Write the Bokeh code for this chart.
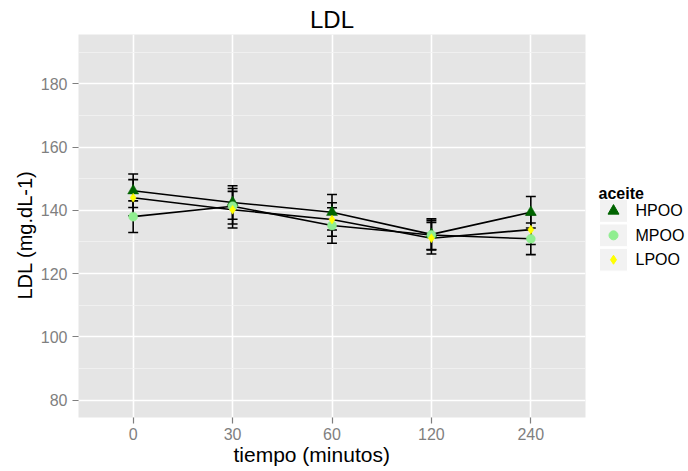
from bokeh.plotting import figure
from bokeh.layouts import row
from bokeh.models import Range1d, SingleIntervalTicker, FixedTicker, ColumnDataSource, Title
from bokeh.core.properties import value
from bokeh.embed import file_html
from bokeh.resources import INLINE

# ---- data ----
tiempo = ["0", "30", "60", "120", "240"]
series = ["HPOO", "MPOO", "LPOO"]
hpoo_mean = [146.2, 142.5, 139.4, 132.4, 139.4]
hpoo_se = [5.3, 5.3, 5.6, 4.9, 5.0]
mpoo_mean = [138.0, 141.3, 135.2, 132.2, 131.0]
mpoo_se = [5.0, 5.6, 5.6, 4.6, 5.0]
lpoo_mean = [144.0, 140.2, 137.1, 131.2, 133.9]
lpoo_se = [5.7, 5.8, 5.3, 5.0, 4.7]
colors = ["#006400", "#90EE90", "#FFFF00"]
markers = ["triangle", "circle", "diamond"]
marker_sizes = [11, 9, 9]

means = [hpoo_mean, mpoo_mean, lpoo_mean]
ses = [hpoo_se, mpoo_se, lpoo_se]

FONT = "Liberation Sans"
xi = list(range(len(tiempo)))

p = figure(width=593, height=471, output_backend="svg", toolbar_location=None,
           x_range=Range1d(-0.55, 4.55), y_range=Range1d(74.5, 195.6),
           min_border_left=78, min_border_right=8, min_border_top=34, min_border_bottom=54,
           title="LDL")
p.background_fill_color = "#E5E5E5"
p.border_fill_color = "white"
p.outline_line_color = None

p.title.text_font = FONT
p.title.text_font_size = "24px"
p.title.text_font_style = "normal"
p.title.align = "center"
p.title.text_color = "black"
p.title.standoff = 4

# grids
p.xgrid.ticker = FixedTicker(ticks=xi)
p.xgrid.grid_line_color = "white"
p.xgrid.grid_line_width = 1.6
p.yaxis.ticker = SingleIntervalTicker(interval=20, num_minor_ticks=2)
p.ygrid.ticker = SingleIntervalTicker(interval=20, num_minor_ticks=2)
p.ygrid.grid_line_color = "white"
p.ygrid.grid_line_width = 1.6
p.ygrid.minor_grid_line_color = "#F2F2F2"
p.ygrid.minor_grid_line_width = 0.8

# axes
p.xaxis.ticker = FixedTicker(ticks=xi)
p.xaxis.major_label_overrides = {i: t for i, t in zip(xi, tiempo)}
for ax in (p.xaxis[0], p.yaxis[0]):
    ax.axis_line_color = None
    ax.major_tick_line_color = "#7F7F7F"
    ax.major_tick_line_width = 1.2
    ax.major_tick_in = 0
    ax.major_tick_out = 6
    ax.minor_tick_line_color = None
    ax.major_label_text_color = "#7F7F7F"
    ax.major_label_text_font = FONT
    ax.major_label_text_font_size = "16px"
p.xaxis.major_label_standoff = 4
p.yaxis.major_label_standoff = 5

# axis titles as side-panel titles (offset like the reference)
xt = Title(text="tiempo (minutos)", align="left", offset=155, standoff=0,
           text_font=FONT, text_font_size="21px", text_font_style="normal",
           text_color="black")
try:
    xt.standoff = -3
except Exception:
    pass
p.add_layout(xt, "below")
p.add_layout(Title(text="LDL (mg.dL-1)", align="left", offset=118, standoff=4,
                   text_font=FONT, text_font_size="20px", text_font_style="normal",
                   text_color="black"), "left")

# error bars
for m, s in zip(means, ses):
    lo = [a - b for a, b in zip(m, s)]
    hi = [a + b for a, b in zip(m, s)]
    src = ColumnDataSource(dict(x=xi, lo=lo, hi=hi,
                                xl=[x - 0.05 for x in xi], xr=[x + 0.05 for x in xi]))
    p.segment(x0="x", y0="lo", x1="x", y1="hi", source=src, line_color="black", line_width=1.6)
    p.segment(x0="xl", y0="lo", x1="xr", y1="lo", source=src, line_color="black", line_width=1.6)
    p.segment(x0="xl", y0="hi", x1="xr", y1="hi", source=src, line_color="black", line_width=1.6)

# lines
for m in means:
    p.line(xi, m, line_color="black", line_width=1.6)

# points
for m, c, mk, sz in zip(means, colors, markers, marker_sizes):
    p.scatter(xi, m, marker=mk, size=sz, fill_color=c, line_color=c, line_width=0.5)

# ---- legend panel ----
lg = figure(width=95, height=471, output_backend="svg", toolbar_location=None,
            x_range=Range1d(0, 95), y_range=Range1d(471, 0),
            min_border=0, min_border_left=0, min_border_right=0,
            min_border_top=0, min_border_bottom=0)
lg.axis.visible = False
lg.grid.visible = False
lg.outline_line_color = None
lg.background_fill_color = "white"
lg.border_fill_color = "white"

lg.text(x=[5], y=[195], text=["aceite"], text_font=value(FONT), text_font_size="16px",
        text_font_style="bold", text_baseline="alphabetic", text_color="black")
ky = [217 + 30 * i for i in range(len(series))]
lg.rect(x=[20] * len(series), y=ky, width=28, height=28, fill_color="#F2F2F2", line_color="white")
for i, (c, mk) in enumerate(zip(colors, markers)):
    lg.scatter([20], [ky[i]], marker=mk, size=[11, 9, 9][i], fill_color=c, line_color=c)
lg.text(x=[42] * len(series), y=ky, text=series, text_font=value(FONT), text_font_size="16px",
        text_baseline="middle", text_color="black")

layout = row(p, lg, spacing=0)
open("out.html", "w").write(file_html(layout, INLINE))
